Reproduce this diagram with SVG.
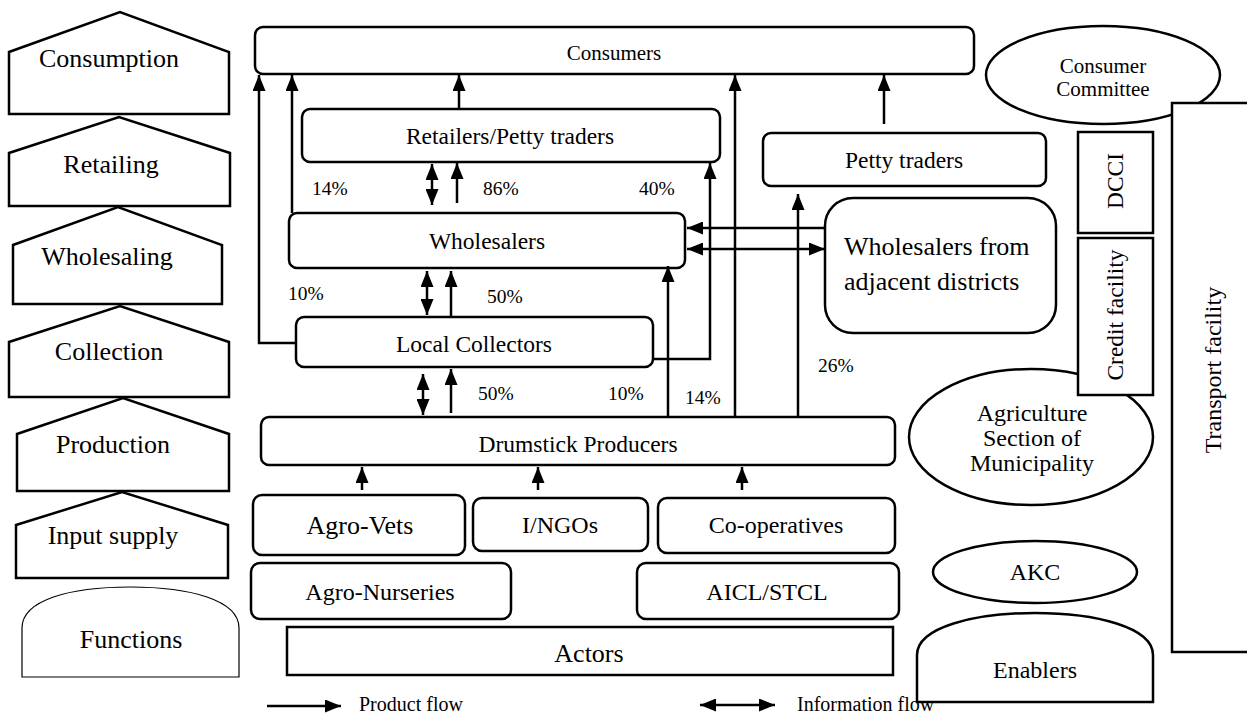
<svg xmlns="http://www.w3.org/2000/svg" width="1247" height="715" viewBox="0 0 1247 715" font-family="'Liberation Serif','Times New Roman',Tinos,'DejaVu Serif',serif">
<style>
.box{fill:#fff;stroke:#000;stroke-width:2.5}
.thin{fill:#fff;stroke:#000;stroke-width:1.2}
.t{font-family:"Liberation Serif","Times New Roman",Tinos,"DejaVu Serif",serif;fill:#000}
.m{text-anchor:middle}
.c{stroke:#000;stroke-width:2.5;fill:none}
.f26{font-size:26px}
.f24{font-size:24px}
.f23{font-size:23.5px}
.f21{font-size:21px}
.p{font-size:19.5px}
</style>
<defs>
<marker id="ah" markerUnits="userSpaceOnUse" markerWidth="16" markerHeight="13" viewBox="0 0 16 13" refX="16" refY="6.5" orient="auto-start-reverse"><path d="M0,0 L16,6.5 L0,13 z" fill="#000"/></marker>
</defs>
<rect width="1247" height="715" fill="#fff"/>

<g id="functions">
<g id="f-consumption"><polygon class="box" points="9,114 9,52 120,12 229,52 229,114"/><text class="t f26 m" x="109" y="67">Consumption</text></g>
<g id="f-retailing"><polygon class="box" points="9,206 9,153 119,117 230,153 230,206"/><text class="t f26 m" x="111" y="173">Retailing</text></g>
<g id="f-wholesaling"><polygon class="box" points="13,304 13,245 118,207 222,245 222,304"/><text class="t f26 m" x="107" y="265">Wholesaling</text></g>
<g id="f-collection"><polygon class="box" points="9,397 9,342 120,306 229,342 229,397"/><text class="t f26 m" x="109" y="360">Collection</text></g>
<g id="f-production"><polygon class="box" points="17,491 17,434 123,398 229,434 229,491"/><text class="t f26 m" x="113" y="453">Production</text></g>
<g id="f-input"><polygon class="box" points="16,578 16,525 122,492 228,525 228,578"/><text class="t f26 m" x="113" y="544">Input supply</text></g>
<g id="f-functions"><path class="thin" d="M22,677 V628 C22,600 70,587 130,587 C190,587 239,600 239,628 V677 Z"/><text class="t f26 m" x="131" y="648">Functions</text></g>
</g>

<g id="consumers"><rect class="box" x="255" y="27" width="719" height="47" rx="8"/><text class="t f21 m" x="614" y="60">Consumers</text></g>
<g id="retailers"><rect class="box" x="302" y="109" width="418" height="53" rx="8"/><text class="t f23 m" x="510" y="144">Retailers/Petty traders</text></g>
<g id="wholesalers"><rect class="box" x="289" y="213" width="396" height="55" rx="8"/><text class="t f23 m" x="487" y="249">Wholesalers</text></g>
<g id="collectors"><rect class="box" x="296" y="317" width="357" height="50" rx="8"/><text class="t f23 m" x="474" y="352">Local Collectors</text></g>
<g id="producers"><rect class="box" x="261" y="417" width="634" height="48" rx="8"/><text class="t f23 m" x="578" y="452">Drumstick Producers</text></g>
<g id="petty"><rect class="box" x="763" y="133" width="283" height="53" rx="8"/><text class="t f23 m" x="904" y="168">Petty traders</text></g>
<g id="adjacent"><rect class="box" x="825" y="198" width="231" height="135" rx="28"/><text class="t f26" x="844" y="255">Wholesalers from</text><text class="t f26" x="844" y="290">adjacent districts</text></g>

<g id="agrovets"><rect class="box" x="253" y="495" width="212" height="60" rx="9"/><text class="t f26 m" x="360" y="534">Agro-Vets</text></g>
<g id="ingos"><rect class="box" x="473" y="498" width="175" height="53" rx="9"/><text class="t f24 m" x="560" y="533">I/NGOs</text></g>
<g id="coops"><rect class="box" x="658" y="498" width="237" height="55" rx="9"/><text class="t f24 m" x="776" y="533">Co-operatives</text></g>
<g id="nurseries"><rect class="box" x="251" y="563" width="260" height="56" rx="9"/><text class="t f24 m" x="380" y="600">Agro-Nurseries</text></g>
<g id="aicl"><rect class="box" x="637" y="563" width="262" height="56" rx="9"/><text class="t f24 m" x="767" y="600">AICL/STCL</text></g>
<g id="actors"><rect class="box" x="287" y="627" width="606" height="48"/><text class="t f26 m" x="589" y="662">Actors</text></g>

<g id="consumer-committee"><ellipse class="box" cx="1103" cy="75" rx="117" ry="49"/><text class="t f21 m" x="1103" y="73">Consumer</text><text class="t f21 m" x="1103" y="96">Committee</text></g>
<g id="transport"><rect class="box" x="1172" y="103" width="90" height="549"/><text class="t f24 m" x="1221" y="370" transform="rotate(-90 1221 370)">Transport facility</text></g>
<g id="agri"><ellipse class="box" cx="1031" cy="437" rx="122" ry="68"/><text class="t f24 m" x="1032" y="421">Agriculture</text><text class="t f24 m" x="1032" y="446">Section of</text><text class="t f24 m" x="1032" y="471">Municipality</text></g>
<g id="dcci"><rect class="box" x="1078" y="132" width="75" height="101"/><text class="t f23 m" x="1123" y="181" transform="rotate(-90 1123 181)">DCCI</text></g>
<g id="credit"><rect class="box" x="1078" y="238" width="75" height="157"/><text class="t f23 m" x="1123" y="315" transform="rotate(-90 1123 315)">Credit facility</text></g>
<g id="akc"><ellipse class="box" cx="1035" cy="572" rx="102" ry="31"/><text class="t f24 m" x="1035" y="580">AKC</text></g>
<g id="enablers"><path class="box" d="M917,702 V655 C917,627 975,613 1035,613 C1095,613 1153,627 1153,655 V702 Z"/><text class="t f24 m" x="1035" y="678">Enablers</text></g>

<g id="connectors">
<path class="c" marker-end="url(#ah)" d="M296,343 H259 V75"/>
<path class="c" marker-end="url(#ah)" d="M292,213 V75"/>
<path class="c" marker-end="url(#ah)" d="M459,109 V75"/>
<path class="c" marker-start="url(#ah)" marker-end="url(#ah)" d="M432,164 V205"/>
<path class="c" marker-end="url(#ah)" d="M457,203 V163"/>
<path class="c" marker-end="url(#ah)" d="M653,359 H710 V163"/>
<path class="c" marker-end="url(#ah)" d="M668,417 V266"/>
<path class="c" marker-end="url(#ah)" d="M735,417 V75"/>
<path class="c" marker-end="url(#ah)" d="M798,417 V194"/>
<path class="c" marker-end="url(#ah)" d="M884,124 V75"/>
<path class="c" marker-end="url(#ah)" d="M825,228 H687"/>
<path class="c" marker-start="url(#ah)" marker-end="url(#ah)" d="M687,249 H825"/>
<path class="c" marker-start="url(#ah)" marker-end="url(#ah)" d="M427,271 V315"/>
<path class="c" marker-end="url(#ah)" d="M451,317 V271"/>
<path class="c" marker-start="url(#ah)" marker-end="url(#ah)" d="M423,374 V415"/>
<path class="c" marker-end="url(#ah)" d="M451,413 V369"/>
<path class="c" marker-end="url(#ah)" d="M362,490 V467"/>
<path class="c" marker-end="url(#ah)" d="M538,490 V467"/>
<path class="c" marker-end="url(#ah)" d="M742,490 V467"/>
<path class="c" marker-end="url(#ah)" d="M267,706 H341"/>
<path class="c" marker-start="url(#ah)" marker-end="url(#ah)" d="M700,705 H775"/>
</g>

<g id="labels">
<text class="t p" x="312" y="195">14%</text>
<text class="t p" x="483" y="195">86%</text>
<text class="t p" x="639" y="195">40%</text>
<text class="t p" x="288" y="300">10%</text>
<text class="t p" x="487" y="303">50%</text>
<text class="t p" x="478" y="400">50%</text>
<text class="t p" x="608" y="400">10%</text>
<text class="t p" x="685" y="404">14%</text>
<text class="t p" x="818" y="372">26%</text>
<text class="t" style="font-size:20px" x="359" y="711">Product flow</text>
<text class="t" style="font-size:20px" x="797" y="711">Information flow</text>
</g>
</svg>
